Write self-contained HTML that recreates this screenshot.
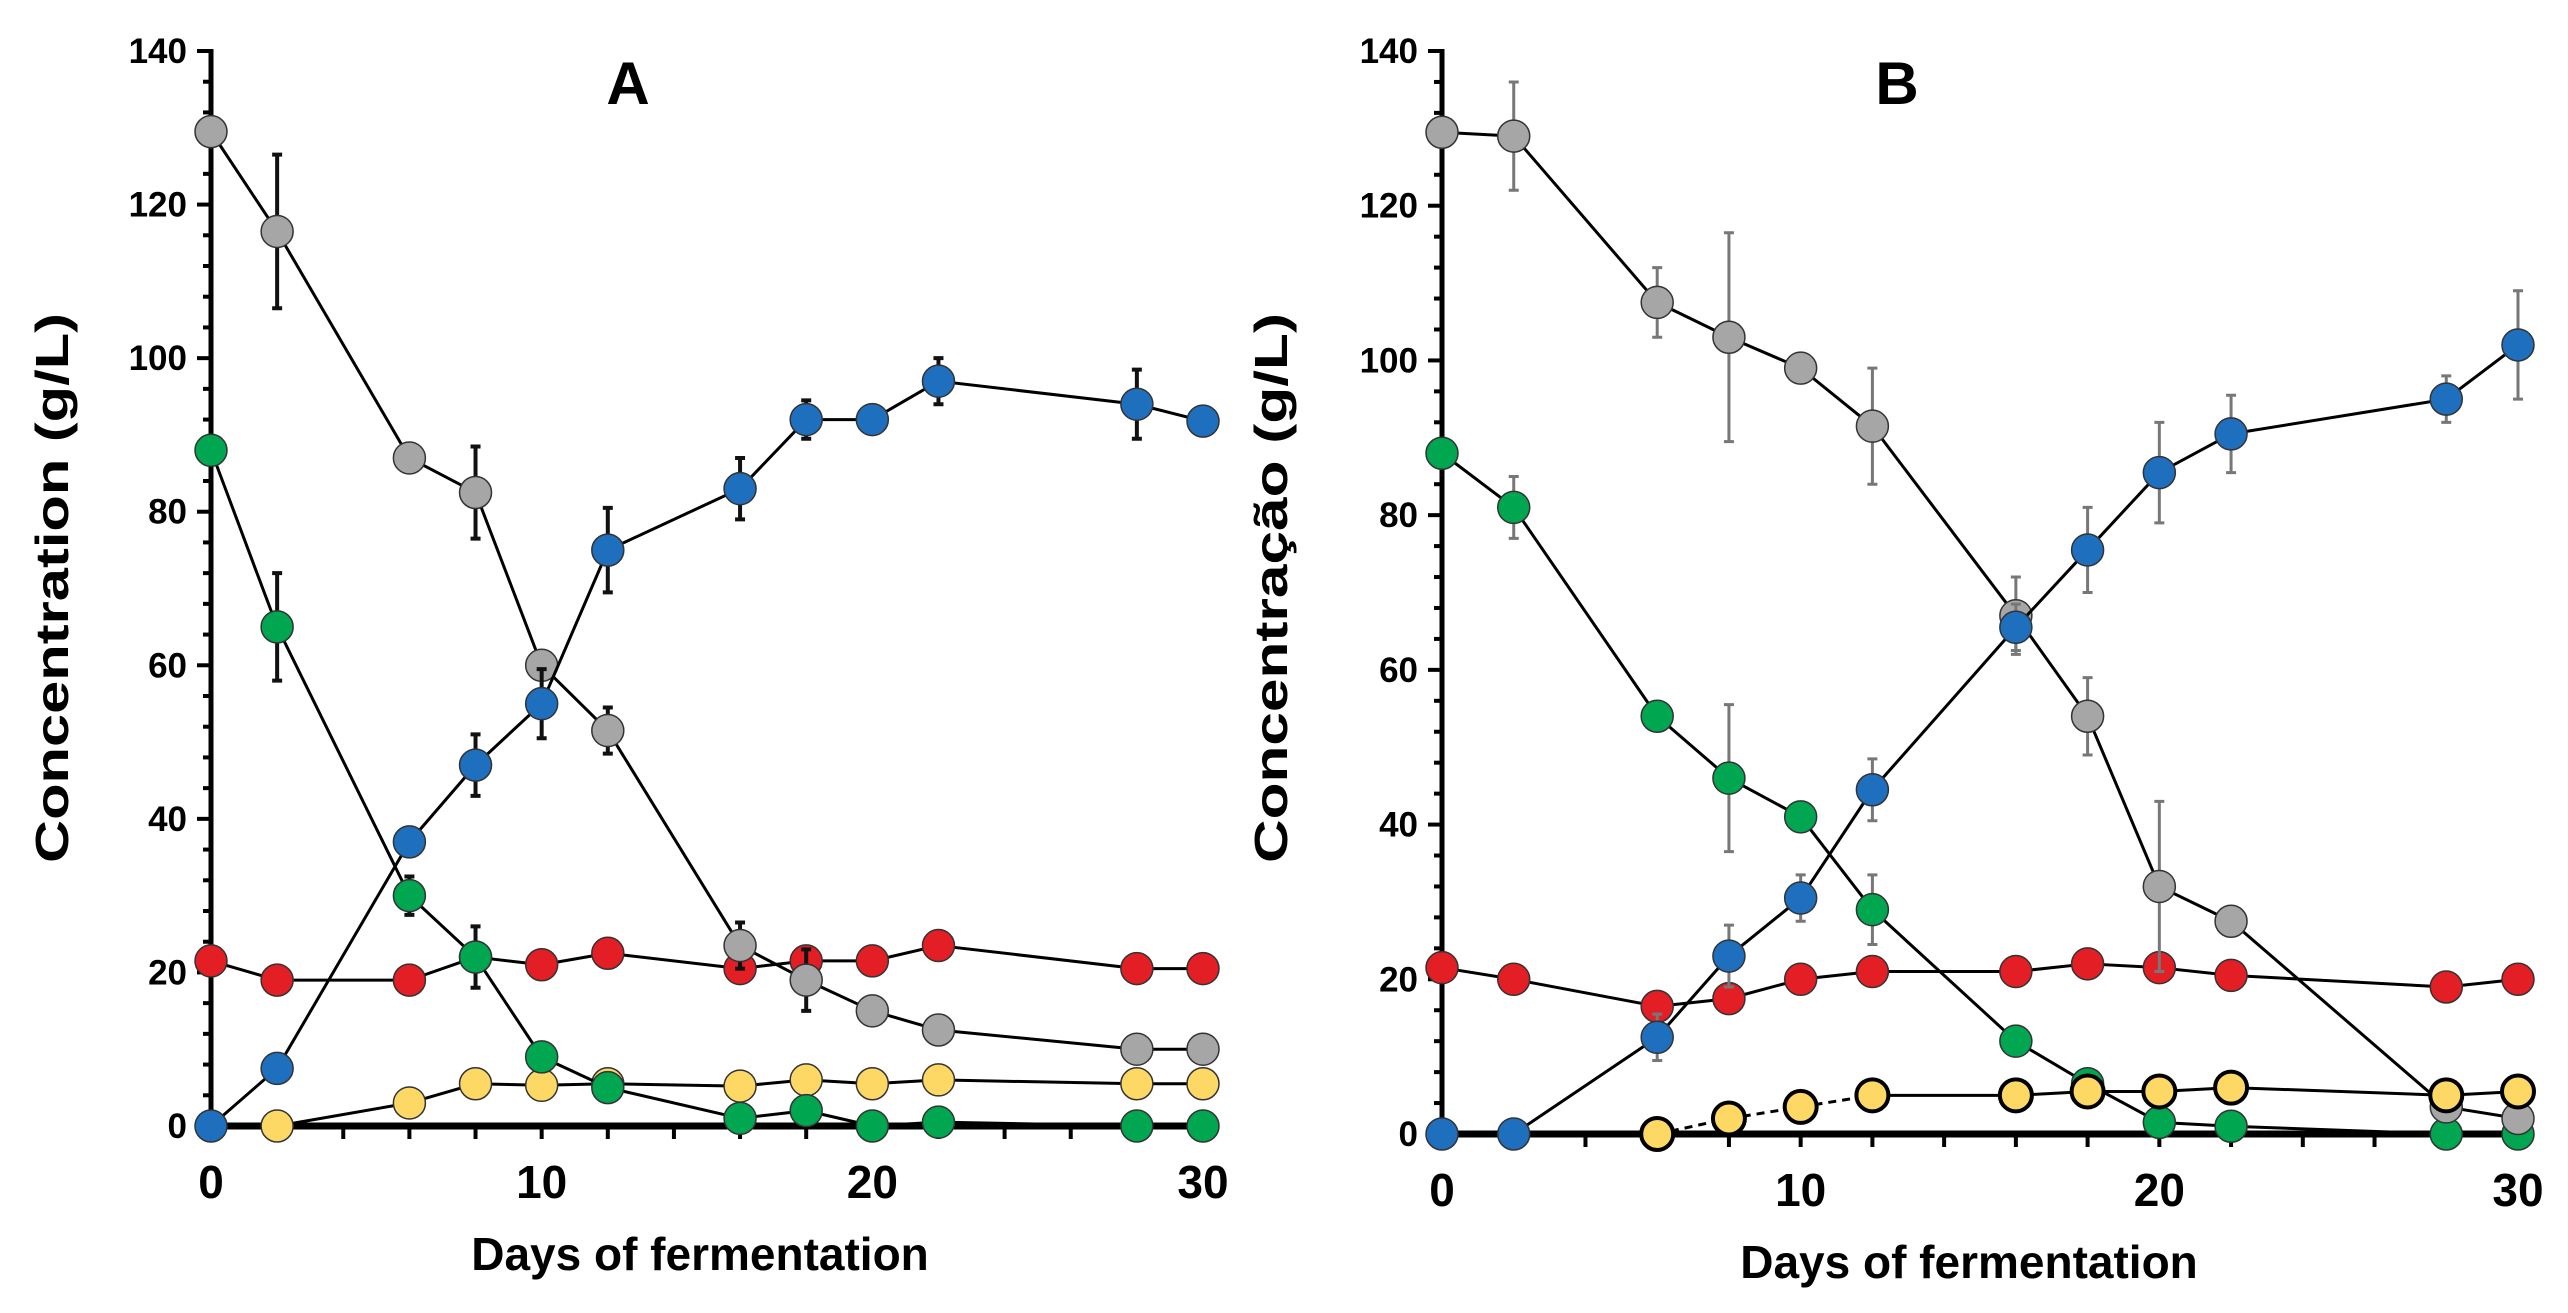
<!DOCTYPE html>
<html><head><meta charset="utf-8"><style>
body{margin:0;background:#fff;}
svg{display:block;font-family:"Liberation Sans",Arial,sans-serif;font-weight:bold;}
</style></head><body>
<svg id="chart" width="2568" height="1313" viewBox="0 0 2568 1313" xmlns="http://www.w3.org/2000/svg"></svg>
<script>
const days = [0,2,6,8,10,12,16,18,20,22,28,30];
const xTicks = [0,10,20,30];
const yTicks = [0,20,40,60,80,100,120,140];
// Panel A
const aGray  = [129.5,116.5,87,82.5,60,51.5,23.5,19,15,12.5,10,10];
const aGrayErr=[0,10,1,6,1,3,3,4,0,0,0,0];
const aBlue  = [0,7.5,37,47,55,75,83,92,92,97,94,91.8];
const aBlueErr=[0,0,0,4,4.5,5.5,4,2.5,0,3,4.5,0];
const aGreen = [88,65,30,22,9,5,1,2,0,0.5,0,0];
const aGreenErr=[0,7,2.5,4,0,0,0,0,0,0,0,0];
const aRed   = [21.5,19,19,22,21,22.5,20.5,21.5,21.5,23.5,20.5,20.5];
const aYellowDays=[2,6,8,10,12,16,18,20,22,28,30];
const aYellow= [0,3,5.5,5.3,5.5,5.2,6,5.5,6,5.5,5.5];
// Panel B
const bGray  = [129.5,129,107.5,103,99,91.5,67,54,32,27.5,3.5,2];
const bGrayErr=[0,7,4.5,13.5,0,7.5,5,5,11,0,0,0];
const bBlue  = [0,0,12.5,23,30.5,44.5,65.5,75.5,85.5,90.5,95,102];
const bBlueErr=[0,0,3,4,3,4,3,5.5,6.5,5,3,7];
const bGreen = [88,81,54,46,41,29,12,6.5,1.5,1,0,0];
const bGreenErr=[0,4,1.5,9.5,0,4.5,1.5,0,0,0,0,0];
const bRed   = [21.5,20,16.5,17.5,20,21,21,22,21.5,20.5,19,20];
const bYellowDays=[6,8,10,12,16,18,20,22,28,30];
const bYellow= [0,2,3.5,5,5,5.5,5.5,6,5,5.5];

const NS="http://www.w3.org/2000/svg";
const svg=document.getElementById('chart');
function mk(tag,attrs,parent){const e=document.createElementNS(NS,tag);for(const k in attrs)e.setAttribute(k,attrs[k]);(parent||svg).appendChild(e);return e;}

function panel(P){
  const g=mk('g',{});
  
  
  const sx=v=>P.x0+(P.x1-P.x0)*v/30;
  const sy=v=>P.y0-(P.y0-P.y1)*v/140;
  const ya=mk('line',{x1:P.x0,y1:sy(140)-2,x2:P.x0,y2:P.y0+3,stroke:'#000','stroke-width':5},g);
  
  
  for(let v=0;v<=140;v+=4){
    if(v%20===0) continue;
    mk('line',{x1:P.x0-8,y1:sy(v),x2:P.x0,y2:sy(v),stroke:'#000','stroke-width':4},g);
  }
  yTicks.forEach(v=>{
    mk('line',{x1:P.x0-14,y1:sy(v),x2:P.x0,y2:sy(v),stroke:'#000','stroke-width':4},g);
    const t=mk('text',{x:P.x0-24,y:sy(v)+12,'text-anchor':'end','font-size':35},g);
    t.textContent=v;
    
    
  });
  const xa=mk('line',{x1:P.x0,y1:P.y0,x2:sx(30)+6,y2:P.y0,stroke:'#000','stroke-width':7},g);
  
  
  for(let v=2;v<=30;v+=2){
    mk('line',{x1:sx(v),y1:P.y0,x2:sx(v),y2:P.y0+13,stroke:'#000','stroke-width':4},g);
  }
  xTicks.forEach(v=>{
    const t=mk('text',{x:sx(v),y:P.y0+72,'text-anchor':'middle','font-size':46},g);
    t.textContent=v;
    
    
  });
  const xt=mk('text',{x:P.xlx,y:P.xly,'text-anchor':'middle','font-size':46},g);
  xt.textContent='Days of fermentation';
  
  
  const yt=mk('text',{x:0,y:0,'text-anchor':'middle','font-size':46,textLength:550,lengthAdjust:'spacingAndGlyphs',transform:`translate(${P.ylx},${P.yly}) rotate(-90)`},g);
  yt.textContent=P.ytitle;
  
  
  const tt=mk('text',{x:P.tx,y:P.ty,'text-anchor':'middle','font-size':60},g);
  tt.textContent=P.title;
  
  

  P.series.forEach(s=>{
    const sg=mk('g',{},g);
    
    
    const xs=s.days||days;
    const pts=xs.map((d,i)=>[sx(d),sy(s.vals[i])]);
    for(let i=1;i<pts.length;i++){
      const dashed=s.dashUntil!==undefined && xs[i]<=s.dashUntil;
      const seg=mk('line',{x1:pts[i-1][0],y1:pts[i-1][1],x2:pts[i][0],y2:pts[i][1],stroke:'#000','stroke-width':3,'stroke-dasharray':dashed?'8 6':'none'},sg);
      
      
    }
    if(s.err){
      s.err.forEach((e,i)=>{
        if(!e) return;
        const x=sx(xs[i]),a=sy(s.vals[i]+e),b=sy(Math.max(0,s.vals[i]-e));
        const eb=mk('path',{d:`M${x},${a}V${b}M${x-5},${a}H${x+5}M${x-5},${b}H${x+5}`,stroke:P.errColor,'stroke-width':P.errW,fill:'none'},sg);
        
        
      });
    }
    pts.forEach(p=>{
      const c=mk('circle',{cx:p[0],cy:p[1],r:16,fill:s.color,stroke:s.stroke||'#333','stroke-width':s.sw||1.5},sg);
      
      
    });
  });
}

panel({name:'panel-a',x0:211,x1:1203,y0:1126,y1:51,title:'A',tx:628,ty:104,
  ytitle:'Concentration (g/L)',ylx:68,yly:588,xlx:700,xly:1270,errColor:'#111',errW:4,
  series:[
    {name:'yellow-series',days:aYellowDays,vals:aYellow,color:'#fdd865'},
    {name:'red-series',vals:aRed,color:'#e31e24'},
    {name:'green-series',vals:aGreen,err:aGreenErr,color:'#00a650'},
    {name:'gray-series',vals:aGray,err:aGrayErr,color:'#a6a6a6'},
    {name:'blue-series',vals:aBlue,err:aBlueErr,color:'#1f6fbf'}
  ]});
panel({name:'panel-b',x0:1442,x1:2518,y0:1134,y1:51,title:'B',tx:1897,ty:104,
  ytitle:'Concentração (g/L)',ylx:1287,yly:588,xlx:1969,xly:1278,errColor:'#777',errW:3,
  series:[
    {name:'red-series',vals:bRed,color:'#e31e24'},
    {name:'green-series',vals:bGreen,err:bGreenErr,color:'#00a650'},
    {name:'gray-series',vals:bGray,err:bGrayErr,color:'#a6a6a6'},
    {name:'yellow-series',days:bYellowDays,vals:bYellow,color:'#fdd865',stroke:'#000',sw:4,dashUntil:12},
    {name:'blue-series',vals:bBlue,err:bBlueErr,color:'#1f6fbf'}
  ]});
</script>
</body></html>
